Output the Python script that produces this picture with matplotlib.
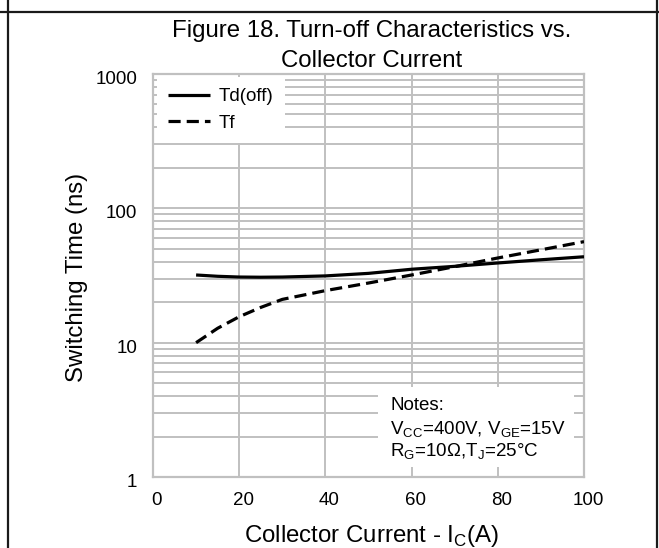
import matplotlib
matplotlib.use("Agg")
import matplotlib.pyplot as plt
from matplotlib.lines import Line2D
from matplotlib.patches import Rectangle
from matplotlib.transforms import ScaledTranslation

plt.rcParams['font.family'] = ['Liberation Sans', 'DejaVu Sans']
plt.rcParams['mathtext.fontset'] = 'custom'
plt.rcParams['mathtext.rm'] = 'Liberation Sans'

# collector current (A) and switching times (ns)
ic = [10, 15, 20, 25, 30, 40, 50, 60, 70, 80, 90, 100]
td_off = [31.9, 31.2, 30.8, 30.7, 30.8, 31.4, 32.8, 35.2, 37.0, 39.2, 41.4, 43.6]
tf = [10.0, 12.8, 15.6, 18.3, 21.0, 24.4, 27.8, 31.9, 36.8, 42.7, 49.1, 56.5]

xticks = [0, 20, 40, 60, 80, 100]
yticks = [1, 10, 100, 1000]

W, H = 659, 548
fig = plt.figure(figsize=(W / 100, H / 100), dpi=100)
ax = fig.add_axes([153 / W, (H - 477) / H, 431 / W, 403 / H])

grid_c = '#c0c0c0'
ax.plot(ic, td_off, color='black', lw=2.3, solid_capstyle='butt', label='Td(off)', zorder=3)
ax.plot(ic, tf, color='black', lw=2.3, dashes=(3.8, 1.9), dash_capstyle='butt', label='Tf', zorder=3)

ax.set_yscale('log')
ax.set_xlim(0, 100)
ax.set_ylim(1, 1000)
ax.set_xticks(xticks)
ax.set_xticklabels([str(v) for v in xticks])
ax.set_yticks(yticks)
ax.set_yticklabels([str(v) for v in yticks])
ax.yaxis.set_minor_locator(matplotlib.ticker.LogLocator(base=10, subs=range(2, 10)))
ax.yaxis.set_minor_formatter(matplotlib.ticker.NullFormatter())
ax.tick_params(which='both', length=0, labelsize=13.5, colors='black')
ax.tick_params(axis='x', pad=11)
ax.tick_params(axis='y', pad=11.5)
ax.grid(True, which='both', axis='y', color=grid_c, lw=1.4, zorder=0.5)
ax.grid(True, which='major', axis='x', color=grid_c, lw=1.4, zorder=0.5)
ax.set_axisbelow(True)
for s in ax.spines.values():
    s.set_color(grid_c)
    s.set_linewidth(1.6)

for lab in ax.get_xticklabels():
    lab.set_transform(lab.get_transform() + ScaledTranslation(0.04, 0, fig.dpi_scale_trans))
for lab in ax.get_yticklabels():
    lab.set_transform(lab.get_transform() + ScaledTranslation(0, -0.035, fig.dpi_scale_trans))

leg = ax.legend(loc='upper left', bbox_to_anchor=((157 - 153) / 431, (477 - 77) / 403),
                borderaxespad=0, fontsize=13.5, handlelength=2.2, handletextpad=0.5,
                labelspacing=0.5, borderpad=0.6, fancybox=False, framealpha=1)
leg.get_frame().set_edgecolor('none')
leg.get_frame().set_facecolor('white')

# notes box
ax.add_patch(Rectangle((0.522, 0.025), 0.455, 0.198, transform=ax.transAxes,
                       facecolor='white', edgecolor='none', zorder=2))
notes = ['Notes:',
         r'V$_\mathregular{CC}$=400V, V$_\mathregular{GE}$=15V',
         r'R$_\mathregular{G}$=10$\Omega$,T$_\mathregular{J}$=25°C']
for txt, yy in zip(notes, [406, 430, 452]):
    ax.text((390 - 153) / 431, (477 - yy) / 403, txt, transform=ax.transAxes,
            fontsize=13.5, ha='left', va='center', zorder=4)

fig.text(372 / W, 1 - 37 / H, 'Figure 18. Turn-off Characteristics vs.', fontsize=17.3,
         ha='center', va='baseline')
fig.text(372 / W, 1 - 67 / H, 'Collector Current', fontsize=17.3, ha='center', va='baseline')
fig.text(371 / W, 1 - 536 / H, r'Collector Current - I$_\mathregular{C}$(A)', fontsize=17.3,
         ha='center', va='center')
fig.text(77 / W, 1 - 277 / H, 'Switching Time (ns)', fontsize=17.3, rotation=90,
         ha='center', va='center')

# page frame
for xx in [7.5, 657]:
    fig.add_artist(Line2D([xx / W, xx / W], [0, 1], color='#1a1a1a', lw=1.6))
fig.add_artist(Line2D([0, 1], [1 - 12 / H, 1 - 12 / H], color='#1a1a1a', lw=1.6))

fig.savefig('out.png', dpi=100)
